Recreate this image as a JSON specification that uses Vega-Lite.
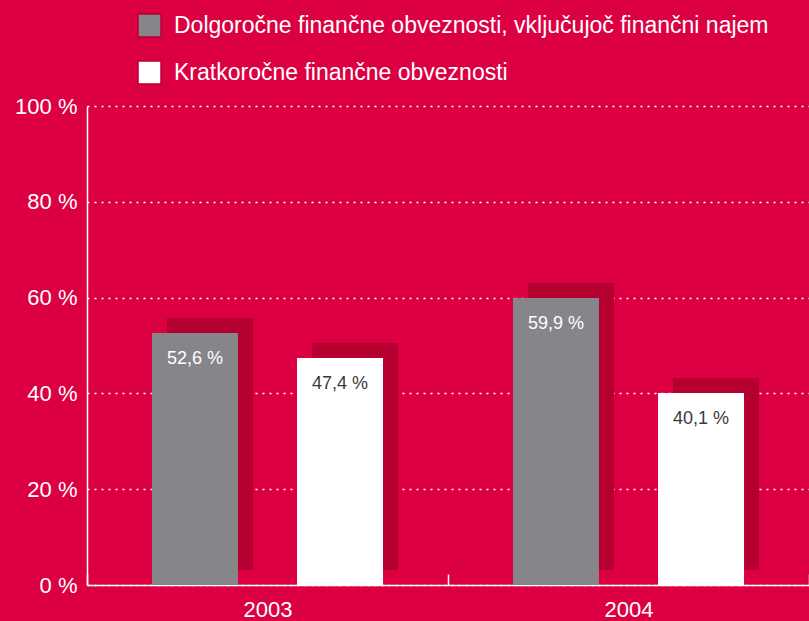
{
  "$schema": "https://vega.github.io/schema/vega-lite/v6.json",
  "autosize": "none",
  "padding": {"left": 87, "top": 106, "right": 0, "bottom": 36},
  "width": 722,
  "height": 479,
  "background": "#DC0043",
  "config": {
    "font": "Liberation Sans",
    "view": {"stroke": null}
  },
  "data": {
    "values": [
      {"year": "2003", "series": "Dolgoročne finančne obveznosti, vključujoč finančni najem", "value": 52.6, "label": "52,6 %"},
      {"year": "2003", "series": "Kratkoročne finančne obveznosti", "value": 47.4, "label": "47,4 %"},
      {"year": "2004", "series": "Dolgoročne finančne obveznosti, vključujoč finančni najem", "value": 59.9, "label": "59,9 %"},
      {"year": "2004", "series": "Kratkoročne finančne obveznosti", "value": 40.1, "label": "40,1 %"}
    ]
  },
  "encoding": {
    "x": {
      "field": "year", "type": "nominal",
      "scale": {"domain": ["2003", "2004"], "paddingInner": 0, "paddingOuter": 0},
      "axis": {
        "title": null, "labelAngle": 0, "labelFontSize": 22, "labelColor": "#FFFFFF",
        "labelPadding": 25, "domainColor": "#FFFFFF", "domainWidth": 1.5,
        "tickBand": "extent", "ticks": true, "tickColor": "#FFFFFF", "tickWidth": 1.5, "tickSize": -11,
        "grid": false
      }
    },
    "y": {
      "field": "value", "type": "quantitative",
      "scale": {"domain": [0, 100], "nice": false},
      "axis": {
        "title": null, "values": [0, 20, 40, 60, 80, 100],
        "labelExpr": "datum.value + ' %'",
        "labelFontSize": 22, "labelColor": "#FFFFFF", "labelPadding": 10,
        "ticks": false, "domainColor": "#FFFFFF", "domainWidth": 1.5,
        "grid": true, "gridColor": "#FFFFFF", "gridDash": [2, 5], "gridWidth": 1.5
      }
    }
  },
  "resolve": {"scale": {"xOffset": "independent"}},
  "layer": [
    {
      "mark": {"type": "bar", "color": "#B5002F", "yOffset": -15},
      "encoding": {
        "xOffset": {
          "field": "series", "type": "nominal",
          "scale": {
            "domain": ["Dolgoročne finančne obveznosti, vključujoč finančni najem", "Kratkoročne finančne obveznosti"],
            "paddingInner": 0.407, "paddingOuter": 0.448, "align": 0.615
          }
        }
      }
    },
    {
      "layer": [
        {
          "mark": {"type": "bar"},
          "encoding": {
            "color": {
              "field": "series", "type": "nominal",
              "scale": {
                "domain": ["Dolgoročne finančne obveznosti, vključujoč finančni najem", "Kratkoročne finančne obveznosti"],
                "range": ["#86858A", "#FFFFFF"]
              },
              "legend": {
                "title": null, "orient": "none", "legendX": 50, "legendY": -93,
                "direction": "vertical", "symbolType": "square", "symbolSize": 529,
                "symbolStrokeColor": "#B5002F", "symbolStrokeWidth": 1.5, "symbolOpacity": 1,
                "labelFontSize": 23, "labelColor": "#FFFFFF", "labelOffset": 12,
                "rowPadding": 18, "labelLimit": 800, "padding": 0
              }
            }
          }
        },
        {
          "mark": {"type": "text", "fontSize": 18, "baseline": "alphabetic", "align": "center", "dy": 31},
          "encoding": {
            "text": {"field": "label"},
            "color": {
              "condition": {"test": "datum.series === 'Kratkoročne finančne obveznosti'", "value": "#3A3A3A"},
              "value": "#FFFFFF"
            }
          }
        }
      ],
      "encoding": {
        "xOffset": {
          "field": "series", "type": "nominal",
          "scale": {
            "domain": ["Dolgoročne finančne obveznosti, vključujoč finančni najem", "Kratkoročne finančne obveznosti"],
            "paddingInner": 0.407, "paddingOuter": 0.448
          }
        }
      }
    }
  ]
}
